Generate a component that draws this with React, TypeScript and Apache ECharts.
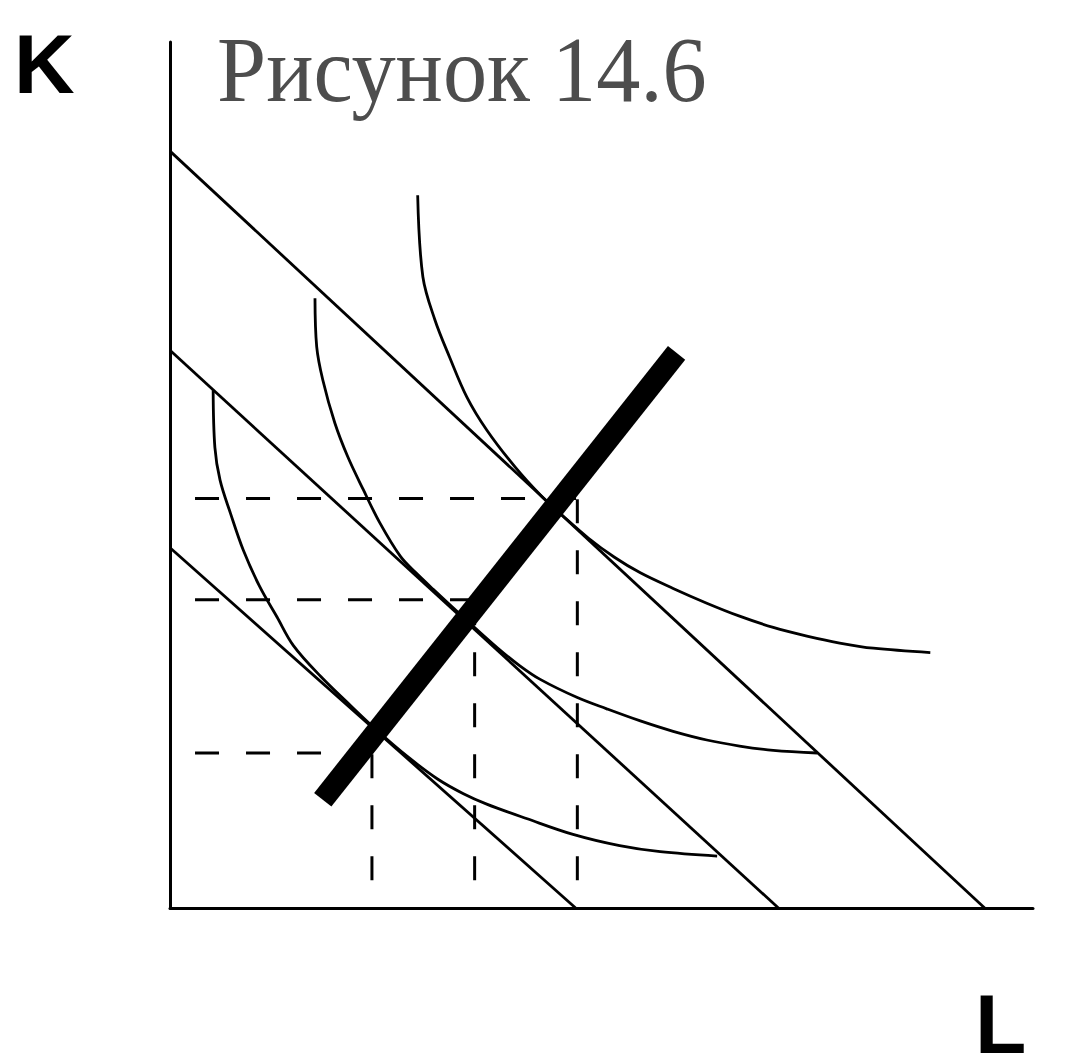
import React, { useEffect, useRef } from "react";
import * as echarts from "echarts";

// Axis ranges (labour L horizontally, capital K vertically)
const lAxisMax = 100;
const kAxisMax = 100;

// Isocost lines, given by their intercepts on the K and L axes
const isocostK = [41.6, 64.4, 87.4];
const isocostL = [47.0, 70.5, 94.4];

// Isoquants, from the lowest output level to the highest
const isoquantLow: number[][] = [
  [5.0, 59.8], [5.2, 53.2], [5.8, 49.4], [7.0, 45.6], [8.5, 41.3],
  [10.4, 37.1], [12.4, 33.6], [14.3, 30.3], [17.5, 26.7], [21.0, 23.3],
  [24.1, 20.4], [27.5, 17.5], [31.0, 14.9], [34.0, 13.2], [36.7, 12.0],
  [41.4, 10.3], [46.7, 8.5], [52.1, 7.2], [56.8, 6.5], [63.4, 6.0],
];
const isoquantMid: number[][] = [
  [16.8, 70.4], [17.0, 64.8], [17.7, 61.0], [19.1, 56.0], [20.6, 52.1],
  [22.4, 48.3], [24.3, 44.5], [26.7, 40.6], [28.5, 38.7], [30.5, 36.8],
  [34.3, 33.3], [38.0, 30.0], [40.5, 28.0], [42.9, 26.4], [47.2, 24.3],
  [50.6, 23.0], [54.5, 21.6], [58.3, 20.4], [62.2, 19.4], [66.0, 18.7],
  [69.9, 18.2], [75.0, 17.9],
];
const isoquantHigh: number[][] = [
  [28.7, 82.3], [29.3, 72.9], [30.7, 67.9], [32.4, 63.6], [34.4, 59.0],
  [36.7, 55.2], [40.0, 50.9], [43.0, 47.6], [45.5, 45.3], [48.5, 42.7],
  [51.5, 40.5], [54.5, 38.7], [58.3, 36.9], [62.2, 35.2], [66.0, 33.7],
  [69.9, 32.4], [73.8, 31.4], [77.6, 30.6], [81.5, 30.0], [88.1, 29.5],
];

// Long-run expansion path (thick line)
const expansionPath: number[][] = [[17.7, 12.5], [58.7, 64.1]];

// Optimal input combinations and the start of their dashed guides
const optimumL = [23.4, 35.3, 47.2];
const optimumK = [17.9, 35.6, 47.3];
const guideFromL = 2.9;
const guideFromK = 3.2;

const BLACK = "#000000";

function buildOption(): echarts.EChartsOption {
  const series: any[] = [];

  isocostK.forEach((k, i) => {
    series.push({
      type: "line",
      data: [[0, k], [isocostL[i], 0]],
      showSymbol: false,
      silent: true,
      lineStyle: { color: BLACK, width: 2.8 },
      z: 3,
    });
  });

  [isoquantLow, isoquantMid, isoquantHigh].forEach((pts) => {
    series.push({
      type: "line",
      data: pts,
      showSymbol: false,
      silent: true,
      smooth: 0.35,
      lineStyle: { color: BLACK, width: 2.8 },
      z: 3,
    });
  });

  optimumL.forEach((l, i) => {
    const k = optimumK[i];
    series.push({
      type: "line",
      data: [[guideFromL, k], [l, k]],
      showSymbol: false,
      silent: true,
      lineStyle: { color: BLACK, width: 3, type: [24, 27] },
      z: 2,
    });
    series.push({
      type: "line",
      data: [[l, guideFromK], [l, k]],
      showSymbol: false,
      silent: true,
      lineStyle: { color: BLACK, width: 3, type: [24, 27] },
      z: 2,
    });
  });

  series.push({
    type: "line",
    data: expansionPath,
    showSymbol: false,
    silent: true,
    lineStyle: { color: BLACK, width: 22, cap: "butt" },
    z: 5,
  });

  const hiddenAxisBits = {
    axisTick: { show: false },
    axisLabel: { show: false },
    splitLine: { show: false },
    axisLine: { show: true, onZero: false, lineStyle: { color: BLACK, width: 3 } },
  };

  return {
    animation: false,
    backgroundColor: "#ffffff",
    grid: { left: 170, top: 42, width: 863, height: 866 },
    xAxis: { type: "value", min: 0, max: lAxisMax, ...hiddenAxisBits },
    yAxis: { type: "value", min: 0, max: kAxisMax, ...hiddenAxisBits },
    graphic: [
      {
        type: "text",
        x: 217,
        y: 70,
        scaleX: 0.95,
        style: {
          text: "Рисунок 14.6",
          font: '93px "Liberation Serif"',
          fill: "#4d4d4d",
          verticalAlign: "middle",
        },
      },
      {
        type: "text",
        x: 14,
        y: 64,
        style: {
          text: "K",
          font: 'bold 84px "Liberation Sans"',
          lineHeight: 64,
          fill: BLACK,
          verticalAlign: "middle",
        },
      },
      {
        type: "text",
        x: 975,
        y: 1024,
        style: {
          text: "L",
          font: 'bold 84px "Liberation Sans"',
          lineHeight: 64,
          fill: BLACK,
          verticalAlign: "middle",
        },
      },
    ],
    series,
  };
}

export default function App() {
  const ref = useRef<HTMLDivElement>(null);
  useEffect(() => {
    if (!ref.current) return;
    const chart = echarts.init(ref.current, undefined, { renderer: "svg" });
    chart.setOption(buildOption());
    return () => chart.dispose();
  }, []);
  return (
    <div
      ref={ref}
      style={{ position: "absolute", left: 0, top: 0, width: 1067, height: 1059, background: "#fff" }}
    />
  );
}
